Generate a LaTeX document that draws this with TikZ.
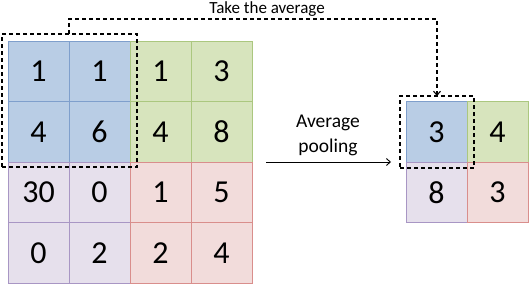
\documentclass[tikz,border=0pt]{standalone}
\usepackage{fontspec}
\setmainfont{Carlito}
\usetikzlibrary{arrows.meta}
\definecolor{bfill}{HTML}{B9CDE5}\definecolor{bdraw}{HTML}{7F9FCC}
\definecolor{gfill}{HTML}{D7E4BD}\definecolor{gdraw}{HTML}{ABC77F}
\definecolor{pfill}{HTML}{E6E0EC}\definecolor{pdraw}{HTML}{A896C4}
\definecolor{rfill}{HTML}{F2DCDB}\definecolor{rdraw}{HTML}{D98E8C}
\tikzset{
  cell/.style={rectangle, inner sep=0pt, outer sep=0pt, line width=0.8pt,
    minimum width=61pt, minimum height=60.5pt, font=\fontsize{32}{32}\selectfont},
  bc/.style={cell, fill=bfill, draw=bdraw},
  gc/.style={cell, fill=gfill, draw=gdraw},
  pc/.style={cell, fill=pfill, draw=pdraw},
  rc/.style={cell, fill=rfill, draw=rdraw},
  dashbox/.style={rectangle, draw=black, line width=1.1pt, dash pattern=on 4pt off 3pt, inner sep=0pt, outer sep=0pt},
  dashline/.style={draw=black, line width=1.1pt, dash pattern=on 4pt off 3pt},
  lbl/.style={inner sep=0pt}
}
\begin{document}
\begin{tikzpicture}[x=1pt,y=-1pt]
\useasboundingbox (0,0) rectangle (532,289);
% big grid
\node[bc] (c11) at (38.5,71.5) {1};
\node[bc] (c12) at (99.5,71.5) {1};
\node[gc] (c13) at (160.5,71.5) {1};
\node[gc] (c14) at (221.5,71.5) {3};
\node[bc] (c21) at (38.5,132) {4};
\node[bc] (c22) at (99.5,132) {6};
\node[gc] (c23) at (160.5,132) {4};
\node[gc] (c24) at (221.5,132) {8};
\node[pc] (c31) at (38.5,192.5) {30};
\node[pc] (c32) at (99.5,192.5) {0};
\node[rc] (c33) at (160.5,192.5) {1};
\node[rc] (c34) at (221.5,192.5) {5};
\node[pc] (c41) at (38.5,253) {0};
\node[pc] (c42) at (99.5,253) {2};
\node[rc] (c43) at (160.5,253) {2};
\node[rc] (c44) at (221.5,253) {4};
% small grid
\node[bc] (s11) at (436.5,132) {3};
\node[gc] (s12) at (497.5,132) {4};
\node[pc] (s21) at (436.5,192.5) {8};
\node[rc] (s22) at (497.5,192.5) {3};
% dashed boxes
\node[dashbox, minimum width=135pt, minimum height=133pt] (bigdash) at (69.5,100.5) {};
\node[dashbox, minimum width=74pt, minimum height=72pt] (smalldash) at (437,132) {};
% take the average
\node[lbl, anchor=base, font=\fontsize{17}{17}\selectfont] (take) at (267,13.5) {Take the average};
\coordinate (topy) at (0,19);
\draw[dashline, -{Straight Barb[length=4pt,width=7pt]}] (bigdash.north -| c11.east) -- (c11.east |- topy) -| (smalldash.north);
% pooling arrow
\node[lbl, anchor=base, font=\fontsize{19.5}{19.5}\selectfont] (avg) at (328,127) {Average};
\node[lbl, anchor=base, font=\fontsize{19.5}{19.5}\selectfont] (pool) at (328,152) {pooling};
\coordinate (ps) at (266,162);
\coordinate (pe) at (391,162);
\draw[line width=0.9pt, -{Straight Barb[length=4pt,width=7pt]}] (ps) -- (pe);
\end{tikzpicture}
\end{document}
